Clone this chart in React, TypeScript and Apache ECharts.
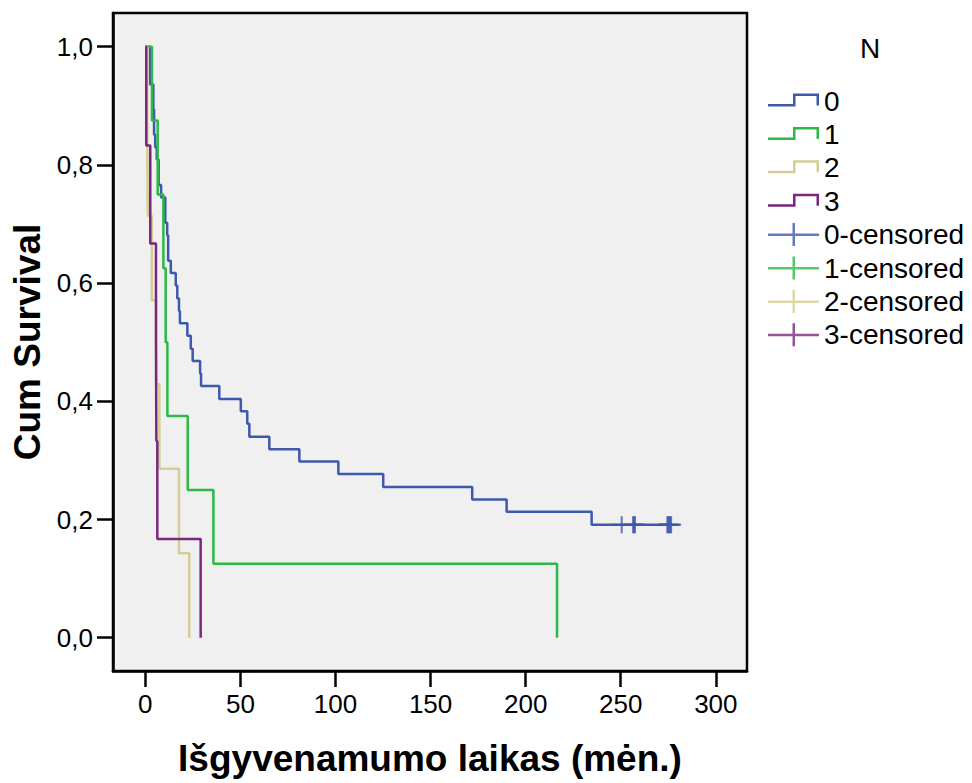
import React, { useEffect, useRef } from "react";
import * as echarts from "echarts";

// ---- Data ----
const xTickValues = [0, 50, 100, 150, 200, 250, 300];
const yTickValues = [0, 0.2, 0.4, 0.6, 0.8, 1.0];

const groupNames = ["0", "1", "2", "3"];
const censoredNames = ["0-censored", "1-censored", "2-censored", "3-censored"];
const groupColors = ["#3e58ac", "#2eb848", "#d3ce97", "#7b277d"];

// Group N = 0 (blue) step curve
const group0Times = [
  0, 2.5, 2.5, 2.5, 4.2, 4.2, 4.6, 4.6, 5.2, 6.0, 7.0, 7.0, 8.3, 10.5, 10.5, 11.5, 12.0,
  12.0, 13.4, 16.0, 16.8, 17.7, 18.2, 22.1, 23.9, 24.9, 28.8, 29.3, 38.9, 50.2, 53.6,
  54.7, 65.2, 81.0, 101.5, 125.1, 171.9, 190.0, 234.7, 276.5,
];
const group0Surv = [
  1.0, 0.979, 0.957, 0.936, 0.915, 0.894, 0.872, 0.851, 0.83, 0.809, 0.787, 0.766, 0.745,
  0.723, 0.702, 0.681, 0.66, 0.638, 0.617, 0.596, 0.574, 0.553, 0.532, 0.511, 0.489, 0.468,
  0.447, 0.426, 0.404, 0.383, 0.362, 0.34, 0.319, 0.298, 0.277, 0.255, 0.234, 0.213, 0.191,
  0.191,
];

// Group N = 1 (green)
const group1Times = [0, 3.5, 6.5, 9.5, 10.7, 11.6, 22.3, 35.8, 216.5];
const group1Surv = [1.0, 0.875, 0.75, 0.625, 0.5, 0.375, 0.25, 0.125, 0.0];

// Group N = 2 (khaki)
const group2Times = [0, 1.0, 1.3, 3.4, 5.7, 7.4, 17.7, 23.1];
const group2Surv = [1.0, 0.857, 0.714, 0.571, 0.429, 0.286, 0.143, 0.0];

// Group N = 3 (purple)
const group3Times = [0, 0.5, 2.6, 5.6, 5.8, 6.3, 29.1];
const group3Surv = [1.0, 0.833, 0.667, 0.5, 0.333, 0.167, 0.0];

// Censored observations (only group 0 has any)
const censored0Times = [250.5, 256.5, 257.0, 257.5, 274.5, 275.0, 275.5, 276.0, 276.5];
const censored0Surv = [0.191, 0.191, 0.191, 0.191, 0.191, 0.191, 0.191, 0.191, 0.191];
const censored1Times: number[] = [];
const censored1Surv: number[] = [];
const censored2Times: number[] = [];
const censored2Surv: number[] = [];
const censored3Times: number[] = [];
const censored3Surv: number[] = [];

const FONT = "'Liberation Sans', Arial, Helvetica, sans-serif";

const zip = (a: number[], b: number[]) => a.map((v, i) => [v, b[i]]);

const stepIcon =
  "path://M0,0h0.01v0.01h-0.01z M0,15 H25 V4.5 H51 V16.5 H48.5 V7 H27.5 V17.5 H0 Z M50.99,23.99h0.01v0.01h-0.01z";
const censorIcon =
  "path://M0,0h0.01v0.01h-0.01z M0,11 H24.5 V0.5 H27 V11 H51 V13.5 H27 V23.5 H24.5 V13.5 H0 Z M50.99,23.99h0.01v0.01h-0.01z";
const plusSymbol = "path://M9,0 H11 V7.5 H20 V9.5 H11 V17 H9 V9.5 H0 V7.5 H9 Z";

export default function App() {
  const ref = useRef<HTMLDivElement>(null);

  useEffect(() => {
    if (!ref.current) return;
    const chart = echarts.init(ref.current, undefined, { renderer: "svg" });

    const curves = [
      zip(group0Times, group0Surv),
      zip(group1Times, group1Surv),
      zip(group2Times, group2Surv),
      zip(group3Times, group3Surv),
    ];
    const censored = [
      zip(censored0Times, censored0Surv),
      zip(censored1Times, censored1Surv),
      zip(censored2Times, censored2Surv),
      zip(censored3Times, censored3Surv),
    ];

    const lineSeries = curves.map((d, i) => ({
      name: groupNames[i],
      type: "line",
      step: "end",
      data: d,
      symbol: "none",
      color: groupColors[i],
      lineStyle: { color: groupColors[i], width: 2.5 },
      z: 2 + i,
    }));
    const censSeries = censored.map((d, i) => ({
      name: censoredNames[i],
      type: "scatter",
      data: d,
      symbol: plusSymbol,
      symbolSize: [20, 17],
      color: groupColors[i],
      itemStyle: { color: groupColors[i] },
      z: 10,
    }));

    const axisLineStyle = { color: "#000", width: 2.5 };

    chart.setOption({
      animation: false,
      backgroundColor: "#ffffff",
      textStyle: { fontFamily: FONT },
      title: {
        text: "N",
        left: 860,
        top: 34,
        padding: 0,
        textStyle: { fontFamily: FONT, fontSize: 28, fontWeight: "normal", color: "#000" },
      },
      legend: {
        orient: "vertical",
        left: 768,
        top: 87,
        padding: 0,
        itemWidth: 51,
        itemHeight: 24,
        itemGap: 5.4,
        selectedMode: false,
        itemStyle: { borderWidth: 0 },
        textStyle: { fontFamily: FONT, fontSize: 28, color: "#000", lineHeight: 24 },
        data: [
          ...groupNames.map((n) => ({ name: n, icon: stepIcon })),
          ...censoredNames.map((n) => ({ name: n, icon: censorIcon })),
        ],
      },
      grid: {
        left: 113,
        top: 13,
        width: 634,
        height: 658,
        show: true,
        backgroundColor: "#f0f0f0",
        borderColor: "#000",
        borderWidth: 2.5,
        containLabel: false,
        outerBoundsMode: "none",
      },
      xAxis: {
        type: "value",
        min: -17,
        max: 316.4,
        name: "Išgyvenamumo laikas (mėn.)",
        nameLocation: "middle",
        nameGap: 69,
        nameTextStyle: { fontFamily: FONT, fontSize: 37, fontWeight: "bold", color: "#000" },
        axisLine: { show: true, onZero: false, lineStyle: axisLineStyle },
        axisTick: {
          show: true,
          inside: false,
          length: 16,
          lineStyle: axisLineStyle,
          customValues: xTickValues,
        },
        axisLabel: {
          show: true,
          margin: 20,
          fontFamily: FONT,
          fontSize: 26,
          color: "#000",
          customValues: xTickValues,
          showMinLabel: true,
          showMaxLabel: true,
          formatter: (v: number) => String(Math.round(v)),
        },
        splitLine: { show: false },
      },
      yAxis: {
        type: "value",
        min: -0.0563,
        max: 1.057,
        name: "Cum Survival",
        nameLocation: "middle",
        nameGap: 66,
        nameTextStyle: { fontFamily: FONT, fontSize: 37, fontWeight: "bold", color: "#000" },
        axisLine: { show: true, onZero: false, lineStyle: axisLineStyle },
        axisTick: {
          show: true,
          inside: false,
          length: 16,
          lineStyle: axisLineStyle,
          customValues: yTickValues,
        },
        axisLabel: {
          show: true,
          margin: 20,
          fontFamily: FONT,
          fontSize: 26,
          color: "#000",
          customValues: yTickValues,
          formatter: (v: number) => v.toFixed(1).replace(".", ","),
        },
        splitLine: { show: false },
      },
      series: [...lineSeries, ...censSeries],
    });

    return () => {
      chart.dispose();
    };
  }, []);

  return (
    <div
      ref={ref}
      style={{ position: "fixed", left: 0, top: 0, width: 972, height: 783, background: "#fff" }}
    />
  );
}
